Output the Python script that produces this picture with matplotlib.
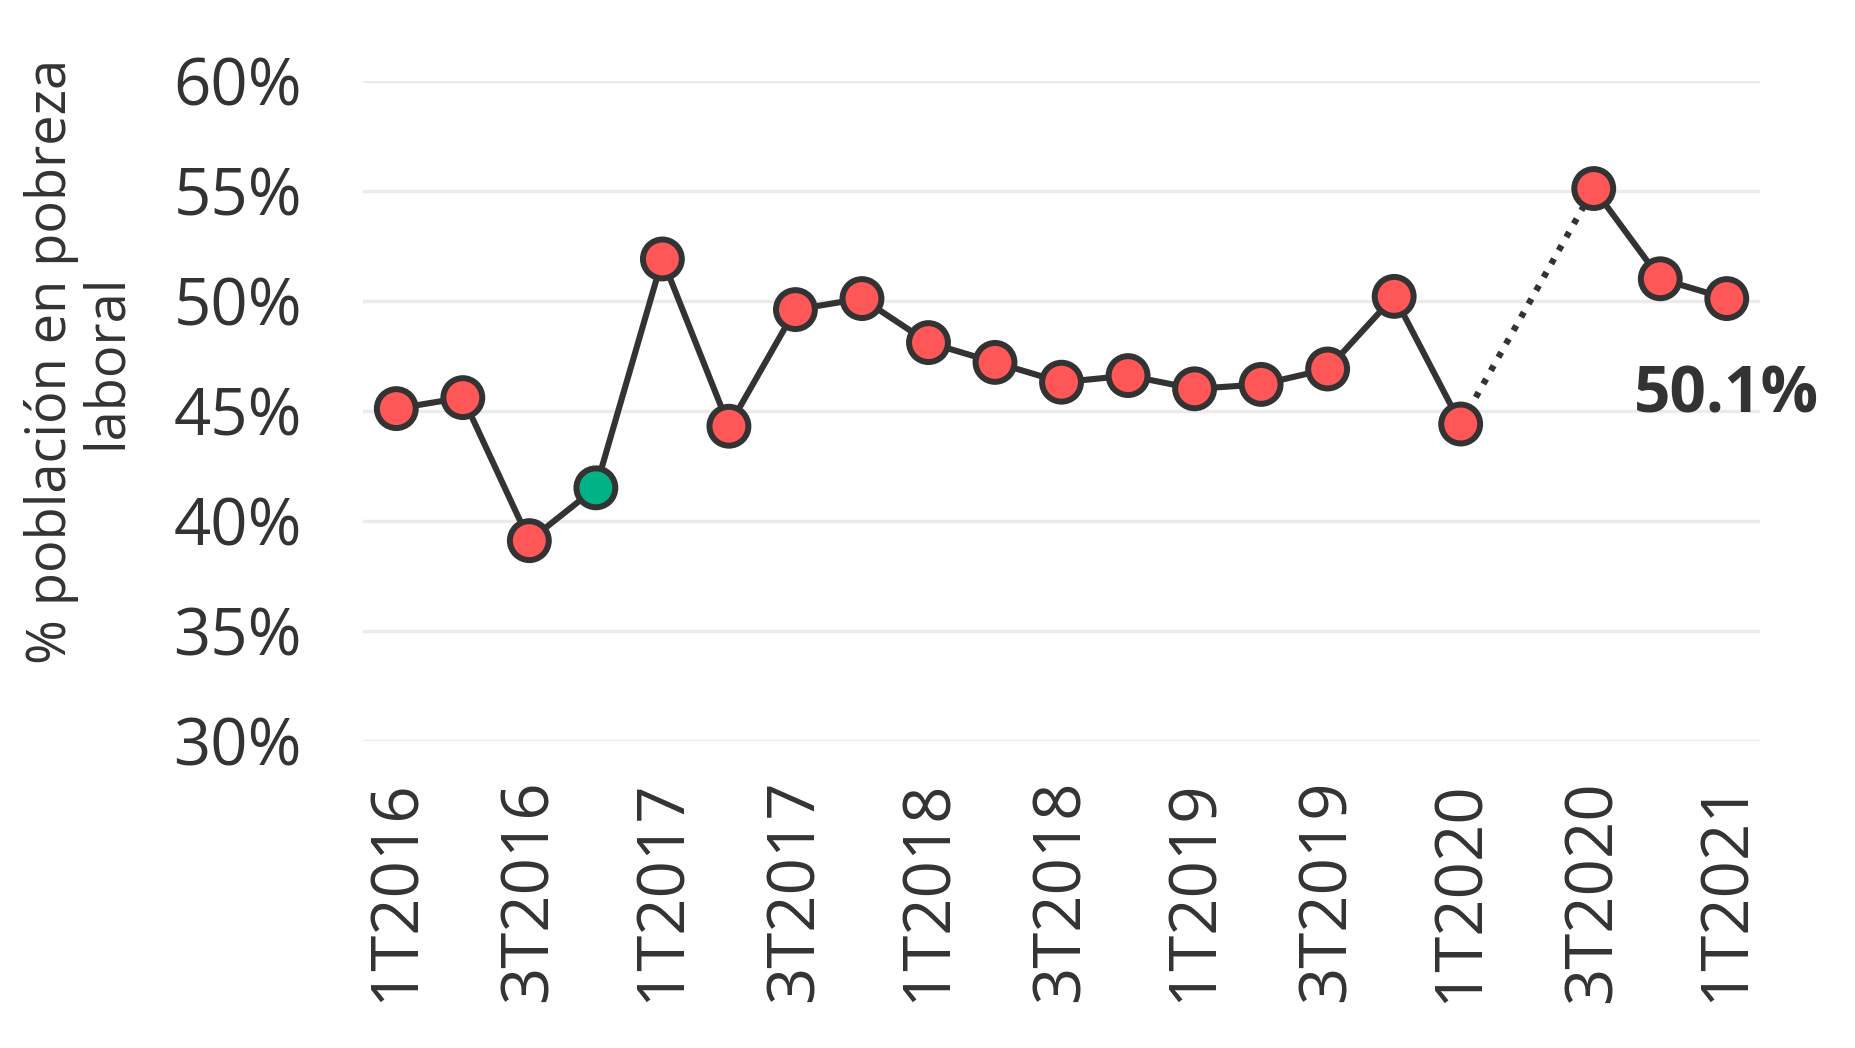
import numpy as np
import matplotlib.pyplot as plt

plt.rcParams['font.family'] = ['Open Sans', 'DejaVu Sans']

# data (% población en pobreza laboral por trimestre)
quarters = ['1T2016', '2T2016', '3T2016', '4T2016',
            '1T2017', '2T2017', '3T2017', '4T2017',
            '1T2018', '2T2018', '3T2018', '4T2018',
            '1T2019', '2T2019', '3T2019', '4T2019',
            '1T2020', '2T2020', '3T2020', '4T2020',
            '1T2021']
values = [45.1, 45.6, 39.1, 41.5,
          51.9, 44.3, 49.6, 50.1,
          48.1, 47.2, 46.3, 46.6,
          46.0, 46.2, 46.9, 50.2,
          44.4, np.nan, 55.1, 51.0,
          50.1]
highlight = '4T2016'
last_label = '50.1%'

dark = '#333333'
red = '#FF5757'
green = '#00B386'

x = np.arange(len(quarters))
y = np.array(values)

fig = plt.figure(figsize=(18.56, 10.48), dpi=100)
ax = fig.add_axes([0.1956, 0.293, 0.7527, 0.630])

# dotted bridge over the missing quarter
ok = ~np.isnan(y)
xi, yi = x[ok], y[ok]
for a, b in zip(range(len(xi) - 1), range(1, len(xi))):
    if xi[b] - xi[a] > 1:
        ax.plot([xi[a], xi[b]], [yi[a], yi[b]], color=dark, lw=4.6,
                ls=(0, (0.9, 1.5)), zorder=2)

ax.plot(x, y, color=dark, lw=4.4, zorder=2)
cols = [green if q == highlight else red for q in quarters]
ax.scatter(x, y, s=28**2, c=cols, edgecolors=dark, linewidths=4.3,
           zorder=3, clip_on=False)

ax.annotate(last_label, (x[-1], y[-1]), xytext=(0, -97),
            textcoords='offset pixels', ha='center', va='center',
            fontsize=46, fontweight='bold', color=dark)

ax.set_xlim(-0.5, len(quarters) - 0.5)
ax.set_ylim(30, 60)
ax.set_yticks(np.arange(30, 61, 5))
ax.set_yticklabels([f'{v}%' for v in range(30, 61, 5)])
ax.set_xticks(x[::2])
ax.set_xticklabels(quarters[::2], rotation=90)

ax.grid(axis='y', color='#EBEBEB', lw=2.5)
ax.set_axisbelow(True)
for s in ax.spines.values():
    s.set_visible(False)
ax.tick_params(axis='y', length=0, pad=44, labelsize=47, labelcolor=dark)
ax.tick_params(axis='x', length=0, pad=28, labelsize=47, labelcolor=dark)

fig.text(0.0425, 0.655, '% población en pobreza\nlaboral', rotation=90,
         ha='center', va='center', multialignment='center',
         fontsize=39, color=dark, linespacing=1.0)

fig.savefig('out.png', dpi=100, facecolor='white')
